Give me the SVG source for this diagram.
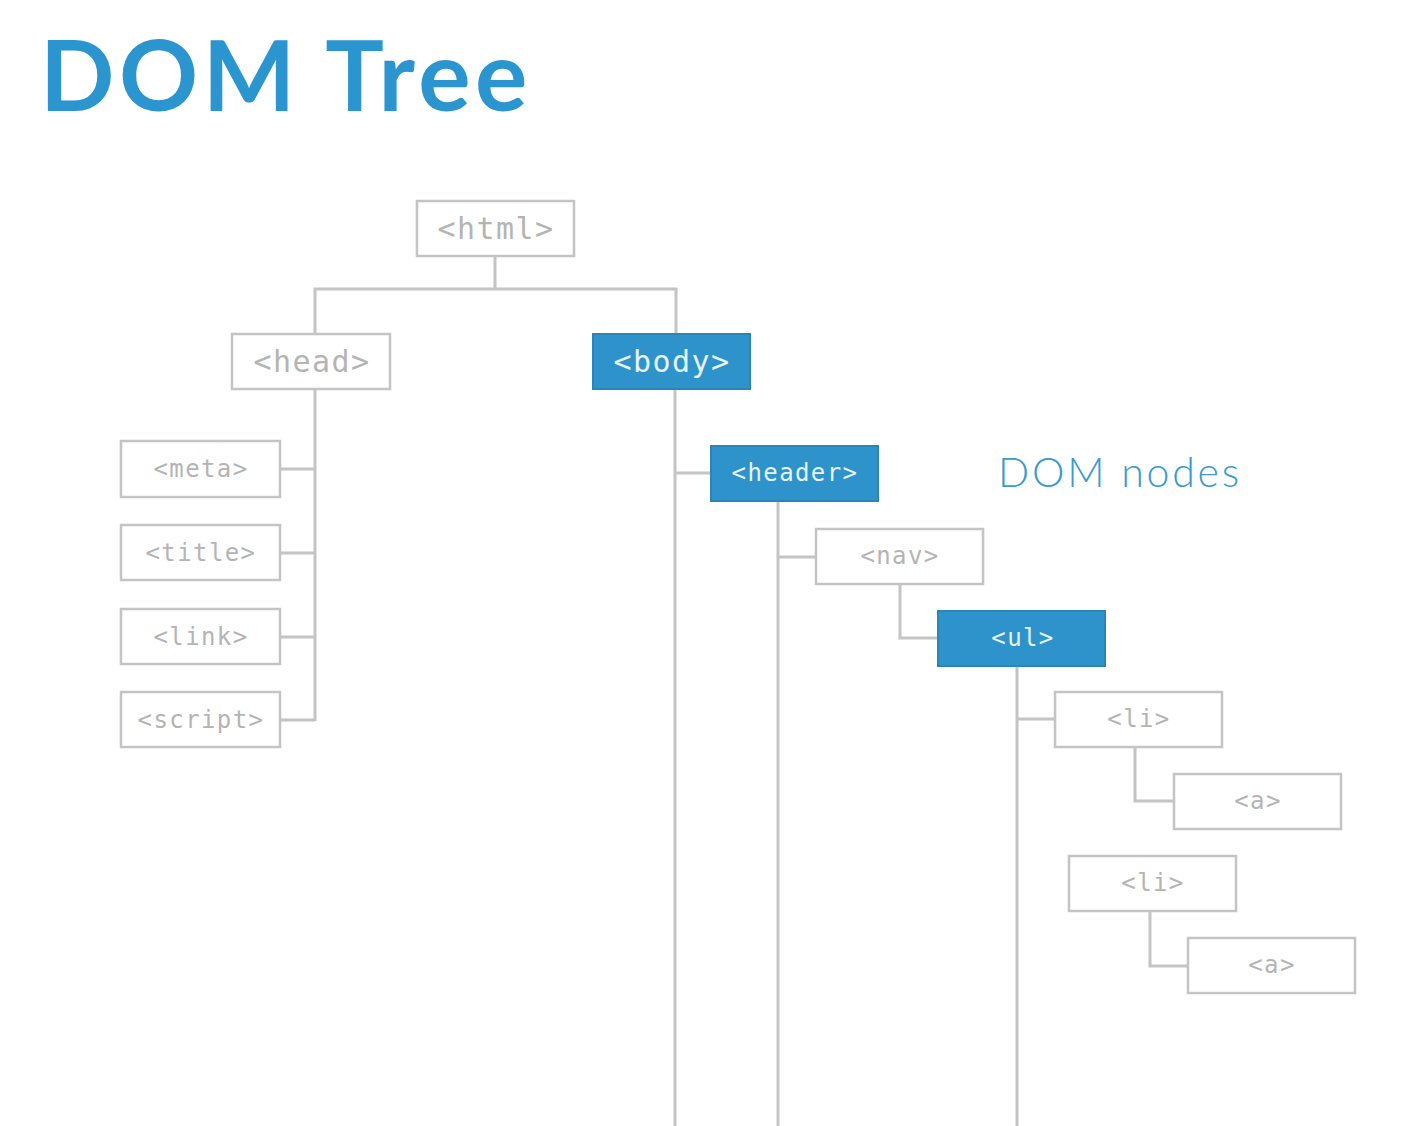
<svg xmlns="http://www.w3.org/2000/svg" width="1414" height="1126" viewBox="0 0 1414 1126">
<style>
.box{fill:#fff;stroke:#c4c4c4;stroke-width:2.5}
.hi{fill:#2e93cb;stroke:#2a86b8;stroke-width:2}
.big{font-family:"DejaVu Sans Mono","Liberation Mono",monospace;font-size:30px;letter-spacing:1.4px;fill:#b4b4b4;text-anchor:middle}
.sm{font-family:"DejaVu Sans Mono","Liberation Mono",monospace;font-size:24px;letter-spacing:1.4px;fill:#b4b4b4;text-anchor:middle}
.w{fill:#e6f3fb}
.conn{fill:none;stroke:#c4c4c4;stroke-width:3}
</style>
<rect width="1414" height="1126" fill="#fff"/>
<text x="40" y="111" font-family="Lato,'Noto Sans',sans-serif" font-weight="700" font-size="98" letter-spacing="4.5" fill="#2b95cf">DOM Tree</text>
<text x="998" y="487" font-family="Lato,'Noto Sans',sans-serif" font-weight="300" font-size="41" letter-spacing="2.8" fill="#3a9ad0">DOM nodes</text>
<g id="connectors" class="conn">
<path d="M495 256V289M315 334V289H676V334"/>
<path d="M315 389V721M280 469H315M280 553H315M280 637H315M280 720H315"/>
<path d="M675 389V1126M675 473H711"/>
<path d="M778 501V1126M778 557H816"/>
<path d="M900 584V638H938"/>
<path d="M1017 666V1126M1017 719H1055"/>
<path d="M1135 747V801H1174"/>
<path d="M1150 911V966H1188"/>
</g>
<g id="html"><rect class="box" x="417" y="201" width="157" height="55"/><text class="big" x="496" y="239">&lt;html&gt;</text></g>
<g id="head"><rect class="box" x="232" y="334" width="158" height="55"/><text class="big" x="312" y="372">&lt;head&gt;</text></g>
<g id="body"><rect class="hi" x="593" y="334" width="157" height="55"/><text class="big w" x="672" y="372">&lt;body&gt;</text></g>
<g id="meta"><rect class="box" x="121" y="441" width="159" height="56"/><text class="sm" x="201" y="477">&lt;meta&gt;</text></g>
<g id="title"><rect class="box" x="121" y="525" width="159" height="55"/><text class="sm" x="201" y="561">&lt;title&gt;</text></g>
<g id="link"><rect class="box" x="121" y="609" width="159" height="55"/><text class="sm" x="201" y="645">&lt;link&gt;</text></g>
<g id="script"><rect class="box" x="121" y="692" width="159" height="55"/><text class="sm" x="201" y="728">&lt;script&gt;</text></g>
<g id="header"><rect class="hi" x="711" y="446" width="167" height="55"/><text class="sm w" x="795" y="481">&lt;header&gt;</text></g>
<g id="nav"><rect class="box" x="816" y="529" width="167" height="55"/><text class="sm" x="900" y="564">&lt;nav&gt;</text></g>
<g id="ul"><rect class="hi" x="938" y="611" width="167" height="55"/><text class="sm w" x="1023" y="646">&lt;ul&gt;</text></g>
<g id="li1"><rect class="box" x="1055" y="692" width="167" height="55"/><text class="sm" x="1139" y="727">&lt;li&gt;</text></g>
<g id="a1"><rect class="box" x="1174" y="774" width="167" height="55"/><text class="sm" x="1258" y="809">&lt;a&gt;</text></g>
<g id="li2"><rect class="box" x="1069" y="856" width="167" height="55"/><text class="sm" x="1153" y="891">&lt;li&gt;</text></g>
<g id="a2"><rect class="box" x="1188" y="938" width="167" height="55"/><text class="sm" x="1272" y="973">&lt;a&gt;</text></g>
</svg>
